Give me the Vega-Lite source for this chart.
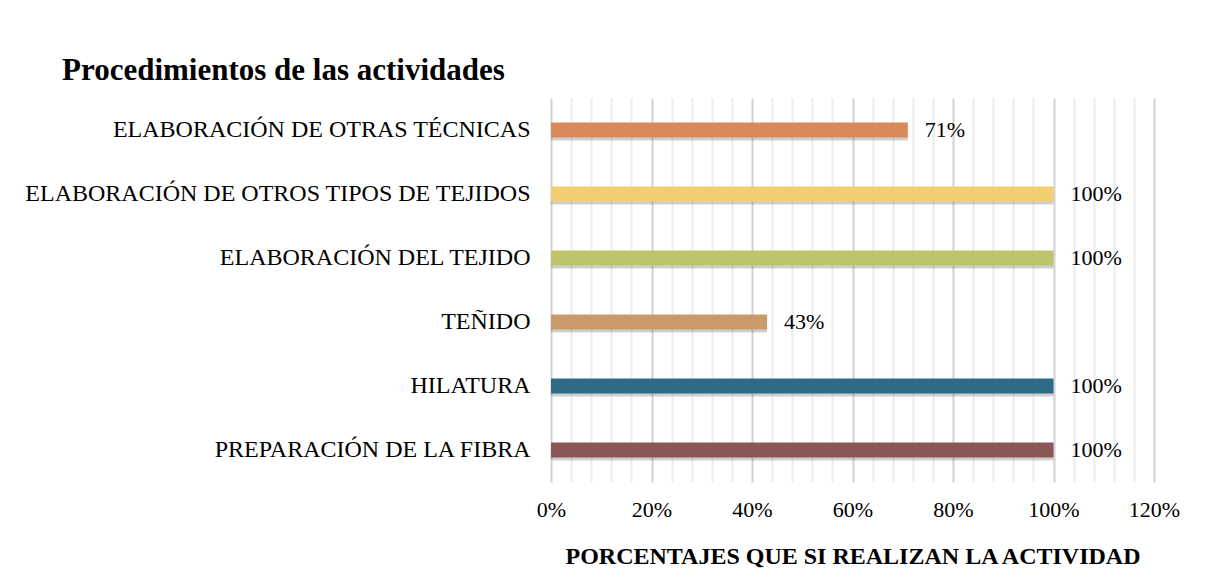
{
  "$schema": "https://vega.github.io/schema/vega-lite/v6.json",
  "autosize": {"type": "none"},
  "width": 603,
  "height": 384,
  "padding": {"left": 551, "top": 98, "right": 55, "bottom": 106},
  "background": "#ffffff",
  "config": {"view": {"stroke": null}},
  "title": {
    "text": "Procedimientos de las actividades",
    "anchor": "start",
    "frame": "group",
    "font": "Liberation Serif",
    "fontSize": 31,
    "fontWeight": "bold",
    "color": "#000000",
    "baseline": "alphabetic",
    "offset": 16,
    "dx": -489,
    "dy": 29
  },
  "data": {
    "values": [
      {"actividad": "ELABORACIÓN DE OTRAS TÉCNICAS", "pct": 0.71},
      {"actividad": "ELABORACIÓN DE OTROS TIPOS DE TEJIDOS", "pct": 1.0},
      {"actividad": "ELABORACIÓN DEL TEJIDO", "pct": 1.0},
      {"actividad": "TEÑIDO", "pct": 0.43},
      {"actividad": "HILATURA", "pct": 1.0},
      {"actividad": "PREPARACIÓN DE LA FIBRA", "pct": 1.0}
    ]
  },
  "encoding": {
    "y": {
      "field": "actividad",
      "type": "nominal",
      "sort": null,
      "axis": {
        "title": null,
        "ticks": false,
        "domain": false,
        "grid": false,
        "labelFont": "Liberation Serif",
        "labelFontSize": 24,
        "labelColor": "#000000",
        "labelPadding": 21,
        "labelLimit": 700
      }
    },
    "x": {
      "field": "pct",
      "type": "quantitative",
      "scale": {"domain": [0, 1.2], "nice": false},
      "axis": {
        "values": [0, 0.04, 0.08, 0.12, 0.16, 0.2, 0.24, 0.28, 0.32, 0.36, 0.4, 0.44, 0.48, 0.52, 0.56, 0.6, 0.64, 0.68, 0.72, 0.76, 0.8, 0.84, 0.88, 0.92, 0.96, 1.0, 1.04, 1.08, 1.12, 1.16, 1.2],
        "format": ".0%",
        "labelExpr": "round(datum.value*100) % 20 === 0 ? datum.label : ''",
        "grid": true,
        "gridColor": {"condition": {"test": "round(datum.value*100) % 20 === 0", "value": "#d2d2d2"}, "value": "#ececec"},
        "gridWidth": 2,
        "ticks": false,
        "tickSize": 0,
        "domain": false,
        "labelFont": "Liberation Serif",
        "labelFontSize": 22,
        "labelColor": "#000000",
        "labelPadding": 17,
        "labelFlush": false,
        "labelOverlap": false,
        "title": "PORCENTAJES QUE SI REALIZAN LA ACTIVIDAD",
        "titleFont": "Liberation Serif",
        "titleFontSize": 24,
        "titleFontWeight": "bold",
        "titleColor": "#000000",
        "titlePadding": 24
      }
    }
  },
  "layer": [
    {
      "mark": {"type": "bar", "height": 15, "yOffset": 3, "color": "#555555", "opacity": 0.28}
    },
    {
      "mark": {"type": "bar", "height": 15},
      "encoding": {
        "color": {
          "field": "actividad",
          "type": "nominal",
          "legend": null,
          "scale": {
            "domain": ["ELABORACIÓN DE OTRAS TÉCNICAS", "ELABORACIÓN DE OTROS TIPOS DE TEJIDOS", "ELABORACIÓN DEL TEJIDO", "TEÑIDO", "HILATURA", "PREPARACIÓN DE LA FIBRA"],
            "range": ["#D98A5B", "#F2CE6E", "#BEC36D", "#C99B6B", "#2F6A86", "#8A5656"]
          }
        }
      }
    },
    {
      "mark": {"type": "text", "align": "left", "baseline": "middle", "dx": 17, "font": "Liberation Serif", "fontSize": 22, "color": "#000000"},
      "encoding": {
        "text": {"field": "pct", "type": "quantitative", "format": ".0%"}
      }
    }
  ]
}
